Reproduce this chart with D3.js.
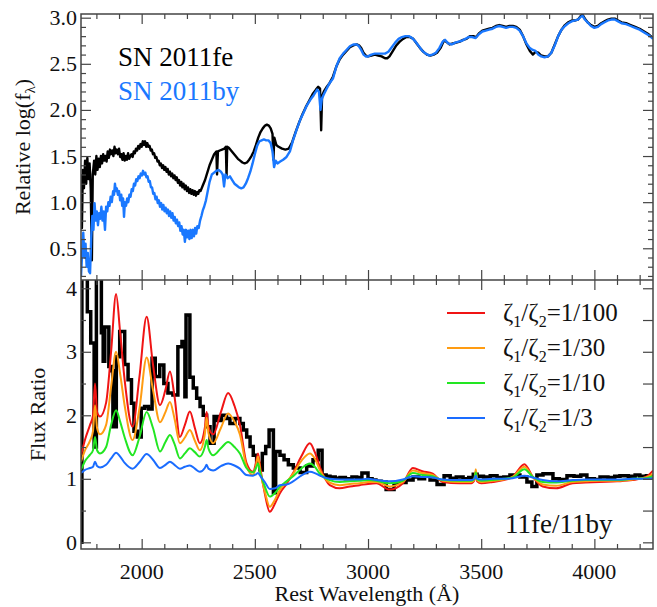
<!DOCTYPE html>
<html><head><meta charset="utf-8">
<script src="https://cdn.jsdelivr.net/npm/d3@7"></script>
</head><body style="margin:0;background:#fff"><svg id="c" width="657" height="607" style="font-family:'Liberation Serif'"></svg>
<script>
// ---- Top panel: relative log flux, SN 2011fe ----
const sn11fe = [[1732,1.30],[1736,0.72],[1740,1.35],[1745,1.15],[1750,1.45],[1755,1.20],[1760,1.48],[1765,1.25],[1770,1.42],[1775,1.15],[1780,0.37],[1784,1.30],[1790,1.45],[1795,1.30],[1800,1.50],[1805,1.35],[1810,1.47],[1815,1.38],[1820,1.50],[1825,1.42],[1830,1.52],[1835,1.45],[1840,1.50],[1845,1.44],[1850,1.55],[1855,1.48],[1860,1.57],[1865,1.52],[1870,1.56],[1875,1.50],[1880,1.60],[1885,1.53],[1890,1.57],[1895,1.52],[1900,1.58],[1905,1.49],[1910,1.52],[1915,1.46],[1920,1.53],[1925,1.45],[1930,1.50],[1935,1.46],[1940,1.53],[1945,1.47],[1950,1.50],[1955,1.52],[1960,1.49],[1965,1.55],[1970,1.53],[1975,1.58],[1980,1.56],[1985,1.61],[1990,1.58],[1995,1.63],[2000,1.60],[2005,1.66],[2010,1.62],[2015,1.66],[2020,1.60],[2025,1.64],[2030,1.60],[2035,1.61],[2040,1.56],[2045,1.57],[2050,1.52],[2055,1.53],[2060,1.48],[2065,1.49],[2070,1.44],[2075,1.45],[2080,1.40],[2085,1.42],[2090,1.37],[2095,1.40],[2100,1.35],[2105,1.38],[2110,1.33],[2115,1.36],[2120,1.30],[2125,1.33],[2130,1.28],[2135,1.31],[2140,1.26],[2145,1.29],[2150,1.24],[2155,1.27],[2160,1.21],[2165,1.24],[2170,1.18],[2175,1.22],[2180,1.16],[2185,1.20],[2190,1.14],[2195,1.18],[2200,1.12],[2205,1.16],[2210,1.10],[2215,1.14],[2220,1.09],[2225,1.13],[2230,1.08],[2235,1.12],[2240,1.07],[2245,1.11],[2250,1.09],[2255,1.13],[2260,1.12],[2270,1.18],[2280,1.24],[2290,1.32],[2300,1.40],[2310,1.46],[2320,1.52],[2330,1.55],[2333,1.30],[2337,1.55],[2345,1.56],[2355,1.57],[2365,1.58],[2372,1.60],[2375,1.28],[2378,1.60],[2385,1.59],[2395,1.56],[2405,1.53],[2415,1.50],[2425,1.47],[2435,1.45],[2445,1.43],[2455,1.42],[2465,1.43],[2475,1.46],[2485,1.50],[2495,1.55],[2505,1.62],[2515,1.70],[2525,1.76],[2535,1.80],[2545,1.83],[2553,1.84],[2562,1.83],[2570,1.80],[2578,1.74],[2582,1.46],[2586,1.70],[2595,1.62],[2605,1.60],[2620,1.58],[2635,1.57],[2650,1.58],[2665,1.65],[2680,1.76],[2695,1.86],[2710,1.95],[2725,2.03],[2740,2.10],[2755,2.17],[2770,2.22],[2780,2.25],[2788,2.23],[2793,1.78],[2797,2.15],[2805,2.20],[2815,2.24],[2830,2.29],[2845,2.36],[2860,2.47],[2875,2.55],[2890,2.60],[2905,2.64],[2920,2.68],[2935,2.70],[2950,2.71],[2960,2.70],[2970,2.67],[2980,2.62],[2990,2.59],[3000,2.58],[3015,2.59],[3030,2.60],[3045,2.59],[3060,2.58],[3075,2.56],[3085,2.56],[3095,2.58],[3110,2.64],[3125,2.70],[3140,2.74],[3155,2.77],[3170,2.79],[3185,2.79],[3200,2.77],[3215,2.72],[3230,2.67],[3245,2.63],[3260,2.60],[3275,2.59],[3290,2.60],[3305,2.62],[3320,2.67],[3335,2.75],[3345,2.74],[3360,2.71],[3375,2.72],[3390,2.73],[3405,2.74],[3420,2.76],[3435,2.77],[3450,2.80],[3465,2.80],[3478,2.79],[3490,2.83],[3505,2.86],[3520,2.87],[3535,2.88],[3550,2.89],[3565,2.91],[3580,2.92],[3595,2.91],[3610,2.90],[3625,2.91],[3640,2.91],[3655,2.90],[3670,2.87],[3685,2.80],[3700,2.71],[3715,2.64],[3728,2.60],[3740,2.63],[3752,2.62],[3765,2.59],[3780,2.58],[3795,2.58],[3810,2.62],[3825,2.71],[3840,2.80],[3855,2.87],[3870,2.92],[3885,2.95],[3900,2.97],[3915,2.97],[3928,2.98],[3940,3.02],[3948,3.03],[3958,2.99],[3970,2.95],[3985,2.92],[4000,2.90],[4015,2.91],[4030,2.94],[4045,2.96],[4060,2.98],[4075,2.99],[4090,2.99],[4105,2.97],[4120,2.95],[4140,2.94],[4160,2.92],[4180,2.90],[4200,2.88],[4220,2.85],[4240,2.82],[4259,2.78]];

// ---- Top panel: SN 2011by ----
const sn11by = [[1732,0.19],[1737,0.45],[1742,0.67],[1747,0.40],[1752,0.55],[1757,0.30],[1762,0.45],[1767,0.25],[1772,0.23],[1777,0.60],[1782,0.85],[1787,0.70],[1792,0.99],[1797,0.80],[1802,0.90],[1807,0.75],[1812,0.88],[1817,0.82],[1822,0.95],[1827,0.80],[1832,0.90],[1838,0.70],[1843,0.95],[1848,0.90],[1853,1.00],[1858,0.96],[1863,1.06],[1868,1.00],[1874,1.12],[1878,1.08],[1882,1.20],[1886,1.12],[1890,1.15],[1895,1.08],[1900,1.12],[1905,1.02],[1910,1.08],[1914,0.96],[1918,1.04],[1922,0.84],[1926,1.00],[1931,0.96],[1936,1.04],[1941,1.00],[1946,1.08],[1951,1.06],[1956,1.14],[1961,1.12],[1966,1.20],[1971,1.18],[1976,1.25],[1981,1.23],[1986,1.28],[1991,1.26],[1996,1.31],[2001,1.29],[2006,1.34],[2011,1.30],[2016,1.32],[2021,1.27],[2026,1.28],[2031,1.22],[2036,1.23],[2041,1.16],[2046,1.16],[2051,1.09],[2056,1.10],[2061,1.03],[2066,1.06],[2071,0.99],[2076,1.02],[2081,0.95],[2086,0.99],[2091,0.92],[2096,0.97],[2101,0.90],[2106,0.94],[2111,0.88],[2116,0.92],[2121,0.85],[2126,0.90],[2131,0.83],[2136,0.88],[2141,0.80],[2146,0.84],[2151,0.77],[2156,0.81],[2161,0.74],[2166,0.78],[2171,0.69],[2176,0.74],[2181,0.65],[2186,0.70],[2191,0.57],[2196,0.70],[2201,0.62],[2206,0.69],[2211,0.60],[2216,0.70],[2221,0.61],[2226,0.70],[2231,0.63],[2236,0.72],[2241,0.66],[2246,0.74],[2252,0.72],[2258,0.80],[2264,0.85],[2270,0.91],[2276,0.95],[2284,1.02],[2292,1.12],[2300,1.22],[2310,1.30],[2320,1.32],[2330,1.34],[2340,1.35],[2350,1.33],[2358,1.30],[2364,1.17],[2370,1.30],[2380,1.26],[2390,1.28],[2400,1.24],[2410,1.20],[2420,1.18],[2430,1.16],[2440,1.15],[2450,1.16],[2460,1.20],[2470,1.26],[2480,1.33],[2490,1.42],[2500,1.52],[2510,1.61],[2520,1.66],[2530,1.67],[2540,1.68],[2550,1.67],[2560,1.67],[2570,1.64],[2578,1.55],[2585,1.38],[2592,1.45],[2600,1.42],[2612,1.44],[2625,1.46],[2640,1.49],[2655,1.55],[2670,1.68],[2685,1.79],[2700,1.89],[2715,1.97],[2730,2.05],[2745,2.11],[2760,2.16],[2775,2.22],[2783,2.20],[2790,2.00],[2796,2.12],[2805,2.17],[2815,2.22],[2830,2.29],[2845,2.34],[2860,2.47],[2875,2.56],[2890,2.61],[2905,2.65],[2920,2.69],[2935,2.71],[2950,2.71],[2960,2.69],[2970,2.65],[2980,2.60],[2990,2.58],[3000,2.58],[3015,2.60],[3030,2.61],[3045,2.61],[3060,2.61],[3075,2.61],[3090,2.63],[3105,2.68],[3120,2.73],[3135,2.77],[3150,2.79],[3165,2.80],[3180,2.80],[3195,2.78],[3210,2.74],[3225,2.69],[3240,2.64],[3255,2.61],[3270,2.59],[3285,2.60],[3300,2.62],[3315,2.67],[3330,2.74],[3340,2.76],[3355,2.72],[3370,2.71],[3385,2.73],[3400,2.74],[3415,2.75],[3430,2.77],[3445,2.79],[3460,2.79],[3475,2.78],[3490,2.82],[3505,2.85],[3520,2.86],[3535,2.87],[3550,2.88],[3565,2.90],[3580,2.91],[3595,2.90],[3610,2.89],[3625,2.90],[3640,2.90],[3655,2.89],[3670,2.86],[3685,2.80],[3700,2.72],[3715,2.67],[3728,2.65],[3740,2.64],[3752,2.60],[3765,2.58],[3780,2.57],[3795,2.58],[3810,2.62],[3825,2.70],[3840,2.80],[3855,2.87],[3870,2.91],[3885,2.94],[3900,2.96],[3915,2.97],[3928,2.98],[3940,3.01],[3948,3.02],[3958,2.98],[3970,2.95],[3985,2.91],[4000,2.89],[4015,2.90],[4030,2.93],[4045,2.95],[4060,2.97],[4075,2.98],[4090,2.98],[4105,2.96],[4120,2.94],[4140,2.93],[4160,2.91],[4180,2.89],[4200,2.87],[4220,2.84],[4240,2.81],[4259,2.77]];

// ---- Bottom panel: observed flux ratio 11fe/11by (binned, bin start wavelength) ----
const ratioObs = [[1732,0.0],[1736,4.3],[1760,3.63],[1775,3.14],[1790,1.5],[1800,4.4],[1822,3.3],[1830,2.85],[1837,3.39],[1855,2.77],[1866,2.7],[1873,1.82],[1888,2.92],[1903,3.32],[1925,2.8],[1940,2.56],[1955,2.19],[1966,1.75],[1981,1.66],[1998,2.11],[2013,2.14],[2030,2.1],[2046,2.9],[2060,2.61],[2080,2.79],[2098,2.5],[2116,2.35],[2138,2.32],[2160,3.08],[2178,3.16],[2191,2.29],[2196,3.58],[2213,2.6],[2228,2.43],[2243,2.27],[2258,2.14],[2272,2.0],[2287,1.82],[2302,1.56],[2320,1.98],[2334,1.92],[2353,2.0],[2375,1.95],[2390,1.87],[2412,1.95],[2434,1.87],[2449,1.77],[2464,1.66],[2479,1.51],[2493,1.37],[2508,1.24],[2523,1.14],[2533,1.40],[2548,1.51],[2563,1.77],[2582,0.78],[2592,1.43],[2611,1.37],[2629,1.30],[2648,1.22],[2670,1.17],[2700,1.10],[2729,1.2],[2757,1.3],[2780,1.45],[2797,1.06],[2815,1.04],[2832,1.03],[2855,1.01],[2876,1.02],[2900,1.0],[2929,1.03],[2950,1.02],[2973,1.09],[3000,1.0],[3018,0.98],[3035,0.96],[3058,0.95],[3080,0.83],[3115,0.93],[3140,0.94],[3168,0.98],[3199,1.03],[3225,1.0],[3250,1.04],[3274,0.98],[3305,0.91],[3336,1.05],[3363,1.01],[3390,1.03],[3420,1.0],[3445,1.02],[3465,1.07],[3482,1.04],[3510,1.03],[3540,1.05],[3570,1.02],[3600,1.03],[3627,1.06],[3671,1.03],[3702,0.95],[3724,0.88],[3746,1.06],[3773,1.08],[3817,1.0],[3845,0.99],[3879,1.05],[3910,1.04],[3940,1.06],[3967,1.0],[4000,0.99],[4025,1.03],[4060,1.02],[4090,1.04],[4113,1.05],[4150,1.04],[4180,1.06],[4201,1.04],[4230,1.05],[4259,1.05]];

// ---- Bottom panel: model ratios ----
const modelWl = [1732,1750,1772,1785,1794,1803,1816,1843,1865,1887,1905,1925,1960,1990,2022,2050,2081,2105,2125,2145,2169,2191,2213,2235,2257,2279,2287,2295,2316,2350,2382,2410,2434,2463,2492,2505,2514,2525,2544,2566,2590,2610,2640,2669,2705,2743,2765,2787,2831,2875,2920,2963,3000,3037,3095,3154,3198,3240,3286,3330,3404,3456,3470,3476,3482,3500,3551,3600,3639,3691,3728,3772,3831,3904,3960,4022,4100,4169,4228,4259];
const model100 = [1.37,1.62,1.85,2.0,2.50,2.05,1.98,2.2,3.0,3.91,3.3,2.55,1.82,2.6,3.55,2.8,2.16,2.4,2.69,2.3,1.66,1.85,2.06,1.8,1.56,1.8,2.05,1.82,1.70,2.05,2.35,2.15,1.85,1.25,1.11,1.25,1.40,1.15,0.77,0.48,0.62,0.77,0.92,1.09,1.35,1.56,1.42,1.19,0.90,0.85,0.88,0.90,0.92,0.93,0.83,0.93,1.17,1.12,1.08,0.95,0.93,0.93,0.98,1.11,0.96,0.93,0.95,0.98,1.03,1.23,1.03,0.88,0.85,0.93,0.94,0.95,0.96,0.98,1.03,1.13];
const model30 = [1.27,1.45,1.60,1.75,2.16,1.80,1.70,1.85,2.45,3.0,2.65,2.15,1.61,2.1,2.91,2.4,1.89,2.05,2.21,1.95,1.56,1.65,1.77,1.6,1.45,1.7,1.96,1.72,1.56,1.80,2.03,1.90,1.70,1.20,1.06,1.20,1.35,1.10,0.80,0.56,0.68,0.82,0.95,1.08,1.28,1.40,1.32,1.14,0.94,0.90,0.92,0.93,0.95,0.95,0.88,0.95,1.13,1.09,1.06,0.97,0.95,0.95,0.99,1.15,0.98,0.95,0.97,0.99,1.03,1.19,1.03,0.91,0.89,0.95,0.96,0.97,0.97,0.99,1.02,1.08];
const model10 = [1.14,1.28,1.38,1.45,1.66,1.45,1.40,1.50,1.85,2.08,1.90,1.65,1.37,1.65,2.05,1.80,1.43,1.58,1.69,1.55,1.32,1.40,1.48,1.42,1.35,1.5,1.61,1.48,1.37,1.48,1.58,1.50,1.40,1.17,1.10,1.17,1.24,1.08,0.88,0.72,0.78,0.87,0.96,1.04,1.16,1.24,1.19,1.08,0.98,0.95,0.96,0.97,0.98,0.97,0.93,0.97,1.09,1.06,1.04,0.98,0.97,0.97,1.0,1.10,0.99,0.97,0.98,1.0,1.02,1.15,1.03,0.95,0.94,0.97,0.98,0.98,0.98,1.0,1.01,1.04];
const model3 = [1.09,1.14,1.17,1.19,1.27,1.20,1.18,1.22,1.32,1.41,1.35,1.25,1.16,1.26,1.39,1.30,1.17,1.22,1.27,1.22,1.16,1.19,1.21,1.16,1.11,1.17,1.22,1.16,1.13,1.20,1.24,1.21,1.16,1.06,1.05,1.07,1.09,1.04,0.95,0.84,0.85,0.90,0.91,0.96,1.05,1.11,1.09,1.05,1.0,0.99,0.99,0.99,1.0,0.98,0.96,0.99,1.04,1.03,1.02,0.99,0.98,0.98,1.0,1.05,1.0,0.99,1.0,1.0,1.01,1.05,1.02,0.98,0.96,0.98,0.99,0.99,0.99,1.0,1.0,1.01];
const modelLabels = ["1/100","1/30","1/10","1/3"];
const modelColors = ["#f01414","#ff9c12","#22e622","#1a6cff"];

const xTickLabels = [2000,2500,3000,3500,4000];
const topTickLabels = [0.5,1.0,1.5,2.0,2.5,3.0];
const botTickLabels = [0,1,2,3,4];

const FONT = "Liberation Serif";
const svg = d3.select("#c");
const L=81, R=653, T=14, M=280, B=549;
const x = d3.scaleLinear([1732,4259],[L,R]);
const yT = d3.scaleLinear([0.156,3.04],[M,T]);
const yB = d3.scaleLinear([-0.105,4.13],[B,M]);

const defs = svg.append("defs");
defs.append("clipPath").attr("id","cT").append("rect").attr("x",L).attr("y",T).attr("width",R-L).attr("height",M-T);
defs.append("clipPath").attr("id","cB").append("rect").attr("x",L).attr("y",M).attr("width",R-L).attr("height",B-M);

const gT = svg.append("g").attr("clip-path","url(#cT)");
const lineT = d3.line().x(d=>x(d[0])).y(d=>yT(d[1]));
gT.append("path").attr("d",lineT(sn11fe)).attr("fill","none").attr("stroke","#000").attr("stroke-width",2.4).attr("stroke-linejoin","round");
gT.append("path").attr("d",lineT(sn11by)).attr("fill","none").attr("stroke","#1a78ff").attr("stroke-width",2.4).attr("stroke-linejoin","round");

const gB = svg.append("g").attr("clip-path","url(#cB)");
const stepLine = d3.line().x(d=>x(d[0])).y(d=>yB(d[1])).curve(d3.curveStepAfter);
gB.append("path").attr("d",stepLine(ratioObs)).attr("fill","none").attr("stroke","#000").attr("stroke-width",3.5);
const models = [model100, model30, model10, model3];
const mLine = d3.line().x((d,i)=>x(modelWl[i])).y(d=>yB(d)).curve(d3.curveMonotoneX);
models.forEach((m,k)=>{
  gB.append("path").attr("d",mLine(m)).attr("fill","none").attr("stroke",modelColors[k]).attr("stroke-width",2);
});

const frameCol = "#444";
function tk(axis, tx, ty, vals, size){
  const g = svg.append("g").attr("transform",`translate(${tx},${ty})`)
    .call(axis.tickValues(vals).tickSize(size).tickFormat(""));
  g.select(".domain").remove();
  g.selectAll("line").attr("stroke",frameCol).attr("stroke-width",1.2);
}
const xMaj = d3.range(2000,4001,500), xMin = d3.range(1800,4260,100).filter(v=>v%500);
for (const [fn, yy] of [[d3.axisBottom, T],[d3.axisTop, M],[d3.axisBottom, M],[d3.axisTop, B]]) {
  tk(fn(x), 0, yy, xMaj, 10);
  tk(fn(x), 0, yy, xMin, 5);
}
const yTMin = d3.range(2,31).map(v=>v/10).filter(v=>Math.round(v*10)%5);
tk(d3.axisRight(yT), L, 0, topTickLabels, 10); tk(d3.axisRight(yT), L, 0, yTMin, 5);
tk(d3.axisLeft(yT), R, 0, topTickLabels, 10); tk(d3.axisLeft(yT), R, 0, yTMin, 5);
const yBMin = [0.5,1.5,2.5,3.5];
tk(d3.axisRight(yB), L, 0, botTickLabels, 10); tk(d3.axisRight(yB), L, 0, yBMin, 5);
tk(d3.axisLeft(yB), R, 0, botTickLabels, 10); tk(d3.axisLeft(yB), R, 0, yBMin, 10);

svg.append("rect").attr("x",L).attr("y",T).attr("width",R-L).attr("height",B-T).attr("fill","none").attr("stroke",frameCol).attr("stroke-width",1.5);
svg.append("line").attr("x1",L).attr("x2",R).attr("y1",M).attr("y2",M).attr("stroke",frameCol).attr("stroke-width",1.5);

const tg = svg.append("g").attr("font-family", FONT).style("font-family", FONT);
function addText(xp, yp, str, size, anchor, color){
  return tg.append("text").attr("x",xp).attr("y",yp).attr("text-anchor",anchor||"start")
    .attr("font-size",size).attr("font-family",FONT).style("font-family",FONT).attr("fill",color||"#111").text(str);
}
xTickLabels.forEach(v=>addText(x(v), 579, d3.format("d")(v), 22, "middle"));
topTickLabels.forEach(v=>addText(77, yT(v)+7.5, d3.format(".1f")(v), 22, "end"));
botTickLabels.forEach(v=>addText(77, yB(v)+7.5, d3.format("d")(v), 22, "end"));

addText((L+R)/2, 601, "Rest Wavelength (Å)", 22, "middle");
const yt1 = addText(0,0,"",22,"middle").attr("x",null).attr("y",null).attr("transform",`translate(30,${(T+M)/2}) rotate(-90)`);
yt1.append("tspan").text("Relative log(f");
yt1.append("tspan").attr("font-size",15).attr("dy",5).text("λ");
yt1.append("tspan").attr("dy",-5).text(")");
addText(0,0,"Flux Ratio",22,"middle").attr("x",null).attr("y",null).attr("transform",`translate(45,${(M+B)/2}) rotate(-90)`);

addText(118, 66, "SN 2011fe", 27, "start", "#000");
addText(118, 100, "SN 2011by", 27, "start", "#1a78ff");

const legY = [313,348,383,418];
modelLabels.forEach((t,k)=>{
  svg.append("line").attr("x1",447).attr("x2",485).attr("y1",legY[k]).attr("y2",legY[k]).attr("stroke",modelColors[k]).attr("stroke-width",2);
  const tx = addText(503, legY[k]+8, "", 25);
  tx.append("tspan").text("ζ");
  tx.append("tspan").attr("font-size",16).attr("dy",6).text("1");
  tx.append("tspan").attr("dy",-6).text("/ζ");
  tx.append("tspan").attr("font-size",16).attr("dy",6).text("2");
  tx.append("tspan").attr("dy",-6).text("="+t);
});
addText(505, 533, "11fe/11by", 27);
</script></body></html>
